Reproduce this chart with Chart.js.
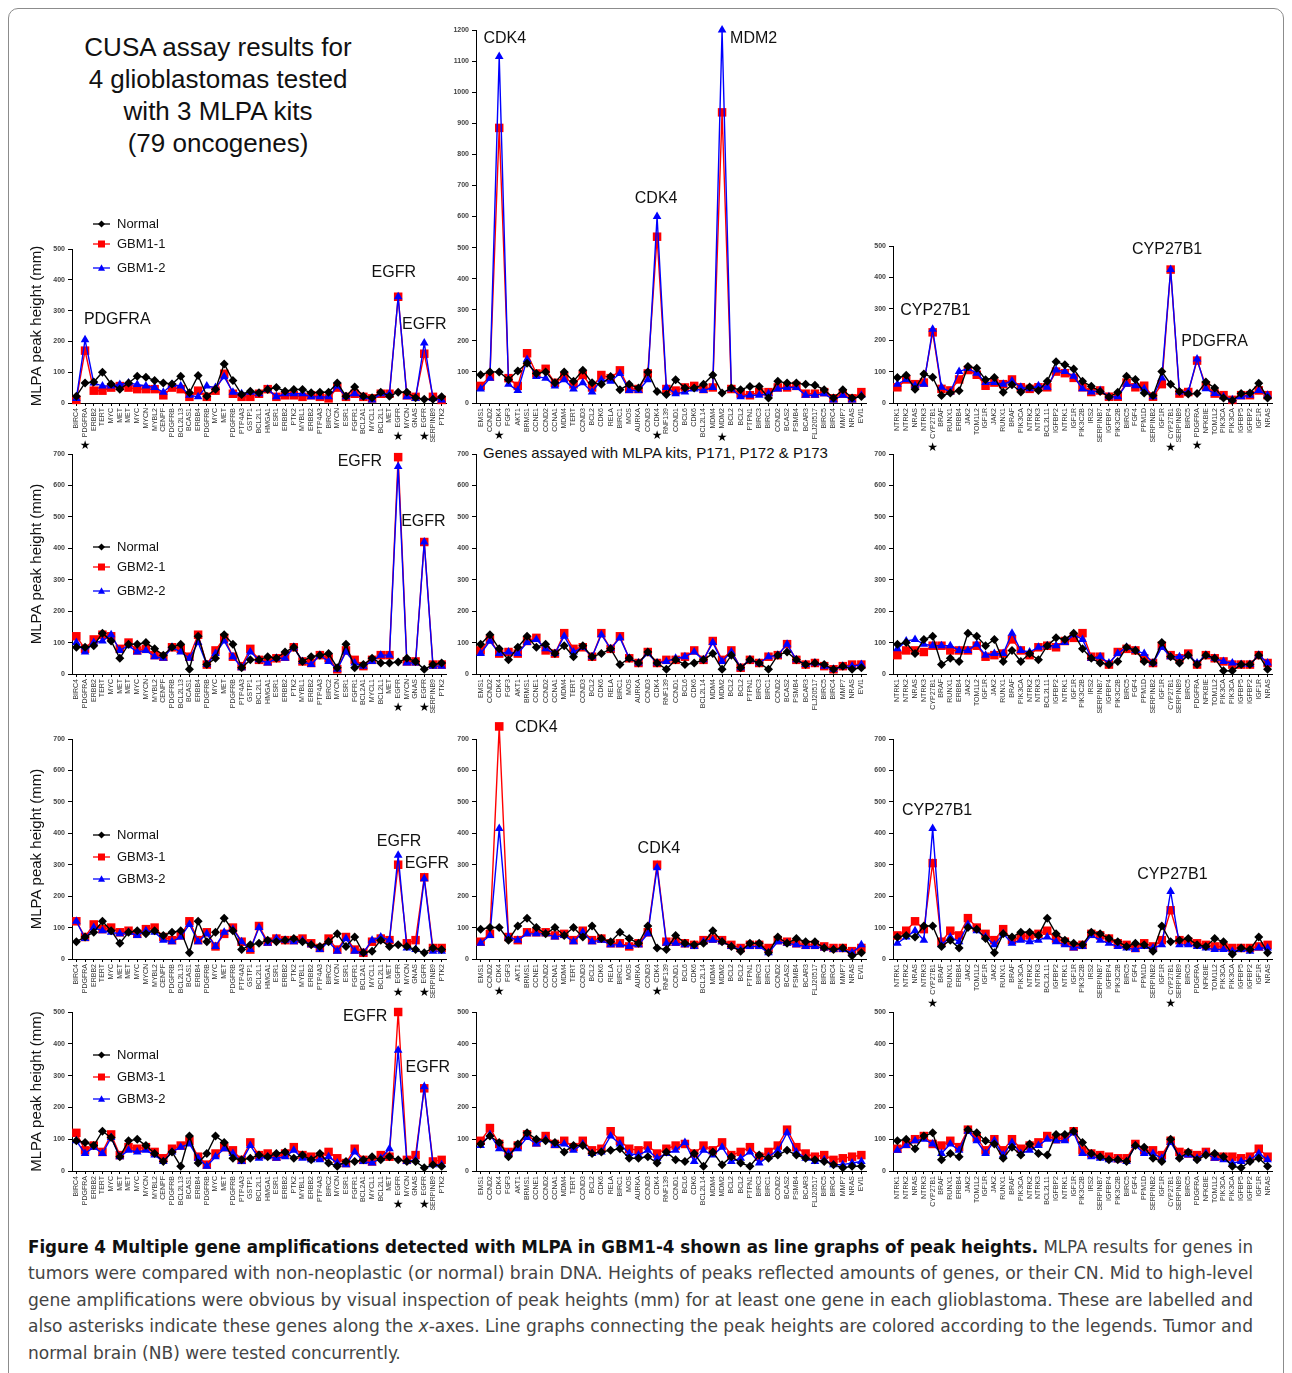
<!DOCTYPE html>
<html>
<head>
<meta charset="utf-8">
<script src="https://cdn.jsdelivr.net/npm/chart.js@4/dist/chart.umd.min.js"></script>
<style>
  body { margin: 0; background: #fff; width: 1292px; height: 1373px; overflow: hidden; position: relative; font-family: "Liberation Sans", Arial, sans-serif; }
  .frame { position: absolute; left: 8px; top: 8px; width: 1274px; height: 1420px; border: 1px solid #8c8c8c; border-radius: 10px; }
  .panel { position: absolute; }
  #title { position: absolute; left: 58px; width: 320px; top: 31px; text-align: center; font-size: 26px; line-height: 32px; color: #111; }
  #kits { position: absolute; left: 483px; top: 444px; font-size: 15px; color: #111; white-space: nowrap; }
  .cap { position: absolute; left: 28px; white-space: nowrap; font-family: "Liberation Sans Narrow", "DejaVu Sans Condensed", sans-serif; font-size: 18px; color: #444; transform-origin: 0 0; }
  .cap b { color: #111; }
</style>
</head>
<body>
<div class="frame"></div>
<div id="title">CUSA assay results for<br>4 glioblastomas tested<br>with 3 MLPA kits<br>(79 oncogenes)</div>
<div id="kits">Genes assayed with MLPA kits, P171, P172 &amp; P173</div>

<div class="cap" style="top:1236px"><b>Figure 4 Multiple gene amplifications detected with MLPA in GBM1-4 shown as line graphs of peak heights.</b> MLPA results for genes in</div>
<div class="cap" style="top:1262px">tumors were compared with non-neoplastic (or normal) brain DNA. Heights of peaks reflected amounts of genes, or their CN. Mid to high-level</div>
<div class="cap" style="top:1289px">gene amplifications were obvious by visual inspection of peak heights (mm) for at least one gene in each glioblastoma. These are labelled and</div>
<div class="cap" style="top:1315px">also asterisks indicate these genes along the <i>x</i>-axes. Line graphs connecting the peak heights are colored according to the legends. Tumor and</div>
<div class="cap last" style="top:1342px">normal brain (NB) were tested concurrently.</div>

<script>
// gene order on the x axes of the three kits
const genesA = ['BIRC4','PDGFRA','ERBB2','TERT','MYC','MET','MET','MYC','MYCN','MYBL2','CENPF','PDGFRB','BCL2L13','BCAS1','ERBB4','PDGFRB','MYC','MET','PDGFRB','PTP4A3','GSTP1','BCL2L1','HMGA1','ESR1','ERBB2','PTK2','MYBL1','ERBB2','PTP4A3','BIRC2','MYCN','ESR1','FGFR1','BCL2A1','MYCL1','BCL2L1','MET','EGFR','MYCN','GNAS','EGFR','SERPINB9','PTK2'];
const genesB = ['EMS1','CCND2','CDK4','FGF3','AKT1','BRMS1','CCNE1','CCND2','CCNA1','MDM4','TERT','CCND3','BCL2','CDK6','RELA','BIRC1','MOS','AURKA','CCND3','CDK4','RNF139','CCND1','BCL6','CDK6','BCL2L14','MDM4','MDM2','BCL2','BCL2','PTPN1','BIRC3','BIRC1','CCND2','BCAS2','PSMB4','BCAR3','FLJ20517','BIRC5','BIRC4','MMP7','NRAS','EVI1'];
const genesC = ['NTRK1','NTRK2','NRAS','NTRK3','CYP27B1','BRAF','RUNX1','ERBB4','JAK2','TOM1L2','IGF1R','JAK2','RUNX1','BRAF','PIK3CA','NTRK2','NTRK3','BCL2L11','IGFBP2','NTRK1','IGF1R','PIK3C2B','IRS2','SERPINB7','IGFBP4','PIK3C2B','BIRC5','FGF4','PPM1D','SERPINB2','IGF1R','CYP27B1','SERPINB9','BIRC5','PDGFRA','NFKBIE','TOM1L2','PIK3CA','PIK3CA','IGFBP5','IGFBP2','IGF1R','NRAS'];

// peak heights (mm)
// GBM1
const normal1A = [22,65,68,100,62,45,65,87,84,73,65,62,87,33,89,22,45,127,73,28,38,33,44,50,38,44,44,33,35,35,65,22,52,22,17,35,22,35,35,17,12,12,20];
const gbm1_1A  = [10,170,40,40,50,55,50,45,45,45,25,50,45,20,40,20,40,95,30,20,20,30,45,20,25,25,20,25,20,15,50,20,30,20,15,30,30,345,25,20,160,20,10];
const gbm1_2A  = [15,205,65,55,55,60,65,60,55,50,35,60,55,25,20,55,50,85,35,30,35,30,45,20,30,30,30,20,20,20,55,20,30,20,10,30,30,345,20,15,195,15,10];
const normal1B = [91,100,100,75,103,128,95,100,65,100,70,105,65,60,85,43,60,48,100,37,27,75,48,48,60,90,32,48,43,53,53,16,70,64,64,60,57,43,16,43,16,21];
const gbm1_1B  = [55,85,885,80,55,160,95,110,65,85,60,90,50,90,80,105,45,45,95,535,45,40,50,55,45,50,935,45,30,25,35,35,50,50,55,30,30,35,15,30,15,35];
const gbm1_2B  = [45,80,1115,60,40,140,85,80,55,75,45,65,35,75,70,95,40,40,75,600,50,30,35,45,40,50,1200,45,20,25,25,30,45,50,50,25,25,30,10,25,10,25];
const normal1C = [81,88,44,92,82,24,32,39,116,111,74,81,34,58,35,51,40,69,131,122,108,69,53,37,19,34,85,75,32,24,100,60,37,29,30,67,48,16,8,30,32,63,16];
const gbm1_1C  = [50,75,60,65,225,45,40,75,105,90,55,65,60,75,50,45,50,50,100,95,80,50,35,40,20,20,65,50,55,20,60,425,30,35,135,55,30,25,10,25,25,40,25];
const gbm1_2C  = [60,75,55,60,235,50,35,100,110,95,65,65,60,70,50,45,55,50,105,100,85,45,35,40,20,20,60,55,45,20,80,425,35,35,140,45,30,20,10,20,25,40,25];
// GBM2
const normal2A = [85,85,90,130,105,50,95,95,100,80,60,85,95,15,120,30,50,125,95,20,45,45,55,50,70,85,40,55,60,65,20,95,20,30,50,35,35,38,50,40,15,30,35];
const gbm2_1A  = [120,80,110,125,120,80,100,75,80,60,55,85,80,55,125,30,75,115,55,25,80,45,40,50,55,85,40,35,60,50,15,75,45,25,45,60,60,690,40,40,420,30,30];
const gbm2_2A  = [100,70,100,105,125,75,90,70,75,55,50,85,70,50,100,30,65,105,55,20,70,45,35,50,50,85,40,30,60,40,15,70,35,25,40,60,60,660,35,35,420,25,25];
const normal2B = [95,125,80,45,85,120,85,95,65,90,55,90,55,65,80,30,50,35,70,35,15,45,30,35,45,65,15,60,20,45,35,15,60,70,45,30,35,30,15,25,15,20];
const gbm2_1B  = [75,110,65,70,65,105,115,75,65,130,80,85,55,130,80,120,50,35,70,35,45,45,55,75,45,105,45,75,20,45,35,55,60,95,45,30,35,25,15,25,30,30];
const gbm2_2B  = [65,105,65,70,65,100,110,80,65,120,70,85,55,125,80,115,50,35,65,35,40,50,55,70,45,100,40,70,20,45,35,55,60,95,45,30,35,25,15,25,25,30];
const normal2C = [95,100,65,110,120,30,50,40,130,120,90,110,40,75,40,65,45,90,115,110,130,80,50,35,30,40,85,75,40,35,100,55,35,60,30,60,50,10,10,30,30,60,15];
const gbm2_1C  = [60,75,75,70,90,90,75,75,75,90,55,60,65,110,75,60,85,90,85,105,115,130,55,55,30,70,80,75,50,35,90,60,50,65,30,60,50,40,30,30,30,60,35];
const gbm2_2C  = [80,105,110,95,90,90,90,75,75,95,60,65,65,130,75,70,85,90,90,100,125,110,50,55,35,65,85,75,65,35,85,55,55,60,35,60,50,40,35,30,30,60,35];
// GBM3
const normal3A = [55,70,85,120,90,50,85,90,80,90,75,85,90,20,120,55,85,130,90,30,45,50,60,55,60,65,55,45,40,55,80,40,70,20,25,60,40,45,40,30,20,35,30];
const gbm3_1A  = [120,70,110,95,100,85,90,80,95,100,70,60,75,120,60,85,40,80,100,55,30,105,55,65,60,60,65,50,35,65,30,70,30,20,55,65,60,300,50,60,260,35,35];
const gbm3_2A  = [120,65,100,90,85,80,85,75,90,85,60,55,70,110,55,80,40,85,95,55,30,100,50,65,60,55,60,45,30,55,25,65,25,20,60,70,60,330,35,30,255,25,25];
const normal3B = [95,100,100,60,105,130,100,80,100,75,100,70,105,65,55,85,65,50,105,35,30,75,50,45,50,90,55,40,25,50,50,20,70,50,65,55,55,35,30,35,10,20];
const gbm3_1B  = [55,80,740,70,60,85,85,85,75,80,60,90,60,65,50,50,40,50,85,300,55,55,50,45,60,65,60,45,35,45,45,35,60,55,50,45,45,40,35,35,25,35];
const gbm3_2B  = [50,75,415,70,60,80,80,80,70,75,55,85,55,60,45,45,40,45,80,290,50,50,45,40,55,60,55,40,30,40,40,20,55,50,45,40,40,35,30,30,20,45];
const normal3C = [70,75,70,105,105,40,60,35,100,95,65,20,80,70,85,85,75,130,80,60,50,45,85,80,65,55,40,50,45,25,105,55,60,65,45,40,65,55,15,35,30,70,20];
const gbm3_1C  = [75,90,120,95,305,55,90,75,130,100,80,60,95,60,70,75,80,90,65,55,40,45,80,75,65,50,45,35,50,40,60,155,60,55,50,45,40,40,35,35,35,40,45];
const gbm3_2C  = [50,70,90,60,415,45,70,55,110,90,70,45,80,50,60,55,60,70,55,45,35,40,75,60,50,40,35,30,40,35,45,215,45,45,40,35,30,30,25,30,25,35,35];
// GBM4 (legend in the figure reads GBM3-1 / GBM3-2)
const normal4A = [95,90,80,125,105,45,95,100,80,55,30,60,15,110,25,55,110,90,40,35,40,50,45,55,60,40,50,35,55,25,15,30,30,35,45,35,45,35,30,30,10,20,15];
const gbm4_1A  = [120,65,80,60,115,50,75,70,75,60,40,70,80,95,45,20,55,75,65,35,90,50,55,45,55,75,50,45,45,60,40,25,70,35,30,50,45,500,35,50,260,30,35];
const gbm4_2A  = [95,55,75,55,105,45,65,60,65,50,30,60,75,85,40,15,45,70,55,30,80,40,45,40,45,65,40,35,35,45,25,20,60,30,25,40,70,380,30,35,265,20,20];
const normal4B = [85,110,90,45,85,120,100,95,90,60,80,80,55,60,65,70,40,40,45,25,60,35,30,55,15,60,20,45,25,15,50,40,50,65,50,40,35,30,20,10,15,15];
const gbm4_1B  = [95,135,85,60,80,115,90,110,85,95,75,95,65,70,125,95,70,65,80,55,70,80,85,55,80,65,90,50,60,75,45,60,80,130,75,55,45,50,35,40,45,50];
const gbm4_2B  = [80,115,70,55,70,105,85,100,80,85,65,85,55,60,110,85,55,50,65,40,55,65,90,30,65,50,75,30,40,60,25,45,65,120,60,40,30,35,20,20,25,30];
const normal4C = [95,100,70,110,120,35,55,45,130,120,95,85,40,75,50,85,55,50,115,115,125,90,55,45,35,35,30,80,75,40,30,100,40,60,35,50,55,45,15,10,30,40,15];
const gbm4_1C  = [70,85,100,110,85,80,95,75,130,105,65,100,65,100,70,80,90,110,100,105,125,65,55,50,45,40,40,85,65,65,50,95,60,55,50,60,45,45,45,40,45,70,45];
const gbm4_2C  = [65,80,95,100,85,55,85,65,125,95,55,95,50,90,55,65,80,100,95,95,120,55,45,40,35,35,30,80,55,55,40,90,45,50,40,55,40,35,25,30,35,55,35];

const seriesNames = [['Normal','GBM1-1','GBM1-2'], ['Normal','GBM2-1','GBM2-2'], ['Normal','GBM3-1','GBM3-2'], ['Normal','GBM3-1','GBM3-2']];

const family = '"Liberation Sans", Arial, sans-serif';
Chart.defaults.font.family = family;

// plot-area placement on the page
const cols = [{ left: 72, right: 446, W: 44 }, { left: 476, right: 866, W: 30 }, { left: 893, right: 1272, W: 30 }];
const rows = [{ top: [249, 30, 246], bottom: 403 }, { top: [454, 454, 454], bottom: 674 }, { top: [739, 739, 739], bottom: 959 }, { top: [1012, 1012, 1012], bottom: 1171 }];
const T = 32, R = 14, H = 64;

function drawMark(ctx, style, x, y, r) {
  ctx.beginPath();
  if (style === 'rect') ctx.rect(x - r, y - r, 2 * r, 2 * r);
  else if (style === 'triangle') { ctx.moveTo(x, y - r * 1.1); ctx.lineTo(x + r, y + r * 0.8); ctx.lineTo(x - r, y + r * 0.8); ctx.closePath(); }
  else { ctx.moveTo(x, y - r); ctx.lineTo(x + r, y); ctx.lineTo(x, y + r); ctx.lineTo(x - r, y); ctx.closePath(); }
  ctx.fill();
}

const extras = {
  id: 'extras',
  afterDatasetsDraw(chart, args, opts) {
    const ctx = chart.ctx, xs = chart.scales.x, ys = chart.scales.y, area = chart.chartArea;
    ctx.save();
    // markers above the top of the axis (Chart.js skips points outside the plot area)
    chart.data.datasets.forEach((ds, k) => {
      const meta = chart.getDatasetMeta(k);
      ds.data.forEach((v, i) => {
        if (v > ys.max) {
          const el = meta.data[i];
          ctx.fillStyle = ds.pointBackgroundColor;
          drawMark(ctx, ds.pointStyle, el.x, el.y, ds.pointStyle === 'rect' ? 4.3 : 4.5);
        }
      });
    });
    // asterisks under amplified genes
    (opts.stars || []).forEach(i => {
      ctx.font = '7px ' + family;
      const w = ctx.measureText(chart.data.labels[i]).width;
      ctx.font = '12px "DejaVu Sans"';
      ctx.fillStyle = '#000';
      ctx.textAlign = 'center';
      ctx.textBaseline = 'middle';
      ctx.fillText('\u2605', xs.getPixelForValue(i), xs.top + 6 + w + 8);
    });
    // gene labels at peaks
    ctx.font = '16px ' + family;
    ctx.fillStyle = '#111';
    ctx.textAlign = 'center';
    ctx.textBaseline = 'middle';
    (opts.notes || []).forEach(n => ctx.fillText(n.text, xs.getPixelForValue(n.x), ys.getPixelForValue(n.y)));
    // legend
    if (opts.legend) {
      chart.data.datasets.forEach((ds, k) => {
        const x0 = area.left + 21, y = area.top + opts.legend[k];
        ctx.strokeStyle = ds.borderColor;
        ctx.lineWidth = 1.3;
        ctx.beginPath(); ctx.moveTo(x0, y); ctx.lineTo(x0 + 17, y); ctx.stroke();
        ctx.fillStyle = ds.pointBackgroundColor;
        drawMark(ctx, ds.pointStyle, x0 + 8.5, y, 3.5);
        ctx.fillStyle = '#111';
        ctx.font = '13px ' + family;
        ctx.textAlign = 'left';
        ctx.fillText(ds.label, x0 + 24, y);
      });
    }
    ctx.restore();
  }
};

const panels = [
  { r: 0, c: 0, labels: genesA, data: [normal1A, gbm1_1A, gbm1_2A], max: 500, stars: [1, 37, 40], legend: [-25, -5, 19],
    notes: [{ x: 4.7, y: 270, text: 'PDGFRA' }, { x: 36.5, y: 422, text: 'EGFR' }, { x: 40, y: 256, text: 'EGFR' }] },
  { r: 0, c: 1, labels: genesB, data: [normal1B, gbm1_1B, gbm1_2B], max: 1200, stars: [2, 19, 26],
    notes: [{ x: 2.6, y: 1171, text: 'CDK4' }, { x: 29.4, y: 1171, text: 'MDM2' }, { x: 18.9, y: 656, text: 'CDK4' }] },
  { r: 0, c: 2, labels: genesC, data: [normal1C, gbm1_1C, gbm1_2C], max: 500, stars: [4, 31, 34],
    notes: [{ x: 4.3, y: 293, text: 'CYP27B1' }, { x: 30.6, y: 490, text: 'CYP27B1' }, { x: 36, y: 197, text: 'PDGFRA' }] },
  { r: 1, c: 0, labels: genesA, data: [normal2A, gbm2_1A, gbm2_2A], max: 700, stars: [37, 40], legend: [93, 113, 137],
    notes: [{ x: 32.6, y: 675, text: 'EGFR' }, { x: 39.9, y: 484, text: 'EGFR' }] },
  { r: 1, c: 1, labels: genesB, data: [normal2B, gbm2_1B, gbm2_2B], max: 700, stars: [], notes: [] },
  { r: 1, c: 2, labels: genesC, data: [normal2C, gbm2_1C, gbm2_2C], max: 700, stars: [], notes: [] },
  { r: 2, c: 0, labels: genesA, data: [normal3A, gbm3_1A, gbm3_2A], max: 700, stars: [37, 40], legend: [96, 118, 140],
    notes: [{ x: 37.1, y: 372, text: 'EGFR' }, { x: 40.3, y: 305, text: 'EGFR' }] },
  { r: 2, c: 1, labels: genesB, data: [normal3B, gbm3_1B, gbm3_2B], max: 700, stars: [2, 19],
    notes: [{ x: 6.0, y: 735, text: 'CDK4' }, { x: 19.2, y: 350, text: 'CDK4' }] },
  { r: 2, c: 2, labels: genesC, data: [normal3C, gbm3_1C, gbm3_2C], max: 700, stars: [4, 31],
    notes: [{ x: 4.5, y: 471, text: 'CYP27B1' }, { x: 31.2, y: 267, text: 'CYP27B1' }] },
  { r: 3, c: 0, labels: genesA, data: [normal4A, gbm4_1A, gbm4_2A], max: 500, stars: [37, 40], legend: [43, 65, 87],
    notes: [{ x: 33.2, y: 484, text: 'EGFR' }, { x: 40.4, y: 324, text: 'EGFR' }] },
  { r: 3, c: 1, labels: genesB, data: [normal4B, gbm4_1B, gbm4_2B], max: 500, stars: [], notes: [] },
  { r: 3, c: 2, labels: genesC, data: [normal4C, gbm4_1C, gbm4_2C], max: 500, stars: [], notes: [] }
];

const styles = [
  { color: '#000000', point: 'rectRot', radius: 4.5, order: 0 },
  { color: '#ff0000', point: 'rect', radius: 6, order: 2 },
  { color: '#0000ff', point: 'triangle', radius: 5, order: 1 }
];

panels.forEach(p => {
  const col = cols[p.c], row = rows[p.r];
  const top = row.top[p.c];
  const cv = document.createElement('canvas');
  const w = col.W + (col.right - col.left) + R;
  const h = T + (row.bottom - top) + H;
  cv.width = w; cv.height = h;
  cv.className = 'panel';
  cv.style.left = (col.left - col.W) + 'px';
  cv.style.top = (top - T) + 'px';
  cv.style.width = w + 'px'; cv.style.height = h + 'px';
  document.body.appendChild(cv);

  new Chart(cv.getContext('2d'), {
    type: 'line',
    data: {
      labels: p.labels,
      datasets: p.data.map((d, k) => ({
        label: seriesNames[p.r][k],
        data: d,
        borderColor: styles[k].color,
        backgroundColor: styles[k].color,
        pointBackgroundColor: styles[k].color,
        pointBorderColor: styles[k].color,
        pointStyle: styles[k].point,
        pointRadius: styles[k].radius,
        pointBorderWidth: 0,
        borderWidth: 1.4,
        tension: 0,
        order: styles[k].order,
        clip: false
      }))
    },
    options: {
      responsive: false,
      animation: false,
      events: [],
      layout: { padding: { top: T, right: R, left: 0, bottom: 0 } },
      plugins: {
        legend: { display: false },
        tooltip: { enabled: false },
        extras: { stars: p.stars, notes: p.notes, legend: p.legend }
      },
      scales: {
        x: {
          offset: true,
          grid: { display: true, drawOnChartArea: false, tickLength: 3, color: '#000', offset: false },
          border: { color: '#000', width: 1 },
          ticks: { autoSkip: false, minRotation: 90, maxRotation: 90, padding: 2, color: '#333', font: { size: 7 } },
          afterFit(s) { s.height = H; }
        },
        y: {
          min: 0, max: p.max,
          grid: { display: true, drawOnChartArea: false, tickLength: 4, color: '#000' },
          border: { color: '#000', width: 1 },
          ticks: { stepSize: 100, padding: 3, color: '#444', font: { size: 7, weight: 'bold' }, callback: v => String(v) },
          title: { display: p.c === 0, text: 'MLPA peak height (mm)', color: '#111', font: { size: 15 }, padding: 0 },
          afterFit(s) { s.width = col.W; }
        }
      }
    },
    plugins: [extras]
  });
});

// fit the caption lines to the text block width
const caps = Array.from(document.querySelectorAll('.cap'));
let f = 0;
caps.slice(0, 4).forEach(el => { const k = 1225 / el.getBoundingClientRect().width; el.style.transform = 'scaleX(' + k + ')'; f += k / 4; });
caps[4].style.transform = 'scaleX(' + f + ')';
</script>
</body>
</html>
